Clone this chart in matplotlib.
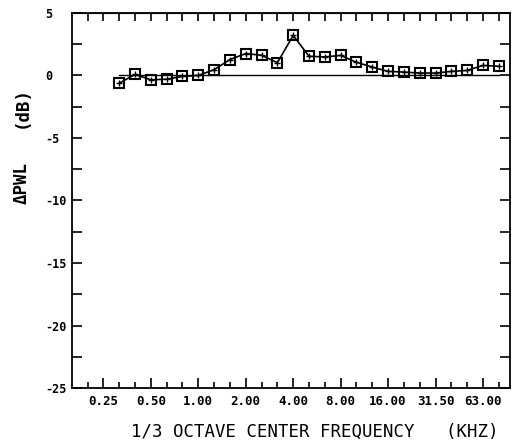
import numpy as np
import matplotlib
matplotlib.use("Agg")
import matplotlib.pyplot as plt

# 1/3 octave band index (0.25 kHz band = 2)
band = np.arange(3, 28)
dpwl = [-0.62, 0.08, -0.35, -0.3, -0.08, 0.0, 0.46, 1.27, 1.75, 1.61,
        1.02, 3.2, 1.53, 1.48, 1.6, 1.05, 0.67, 0.32, 0.27, 0.19,
        0.19, 0.32, 0.40, 0.8, 0.73]

freq_ticks = [2, 5, 8, 11, 14, 17, 20, 23, 26]
freq_labels = ["0.25", "0.50", "1.00", "2.00", "4.00", "8.00", "16.00", "31.50", "63.00"]

font = "DejaVu Sans Mono"

fig = plt.figure(figsize=(5.24, 4.45), dpi=100)
ax = fig.add_axes([0.137, 0.128, 0.836, 0.843])

ax.plot([band[0], band[-1]], [0, 0], color="black", lw=1.0)
ax.plot(band, dpwl, color="black", lw=1.2, marker="s", ms=7,
        mfc="none", mec="black", mew=1.5)
ax.plot(band, dpwl, ls="none", marker="+", ms=4, color="black", mew=1.0)

ax.set_xlim(0, 27.7)
ax.set_ylim(-25, 5)

ax.set_xticks(freq_ticks)
ax.set_xticklabels(freq_labels, fontfamily=font, fontweight="bold", fontsize=9)
ax.set_xticks(np.arange(1, 28), minor=True)
ax.set_yticks(np.arange(-25, 6, 5))
ax.set_yticklabels([str(v) for v in range(-25, 6, 5)], fontfamily=font,
                   fontweight="bold", fontsize=8.5, ha="left")
ax.set_yticks(np.arange(-22.5, 5, 5), minor=True)

ax.tick_params(which="both", direction="in", right=True, width=1.2)
ax.tick_params(axis="y", which="both", length=7)
ax.tick_params(axis="x", which="major", length=7, pad=5)
ax.tick_params(axis="x", which="minor", length=4)
ax.tick_params(axis="y", which="major", pad=19)
for s in ax.spines.values():
    s.set_linewidth(1.3)

# top edge: every band ticked, all the same length
top = ax.secondary_xaxis("top")
top.set_xticks(np.arange(1, 28))
top.set_xticklabels([])
top.tick_params(direction="in", length=6, width=1.2)

fig.text(0.6, 0.03, "1/3 OCTAVE CENTER FREQUENCY   (KHZ)", ha="center",
         va="center", fontfamily=font, fontsize=12.5)
# y label drawn in two pieces, the -5 tick label sits in the gap
fig.text(0.041, 1 - 183 / 445, "\u0394PWL", rotation=90, ha="center",
         va="center", fontfamily=font, fontweight="bold", fontsize=12.5)
fig.text(0.041, 1 - 107 / 445, "(dB)", rotation=90, ha="center",
         va="center", fontfamily=font, fontweight="bold", fontsize=12.5)

fig.savefig("out.png", dpi=100)
